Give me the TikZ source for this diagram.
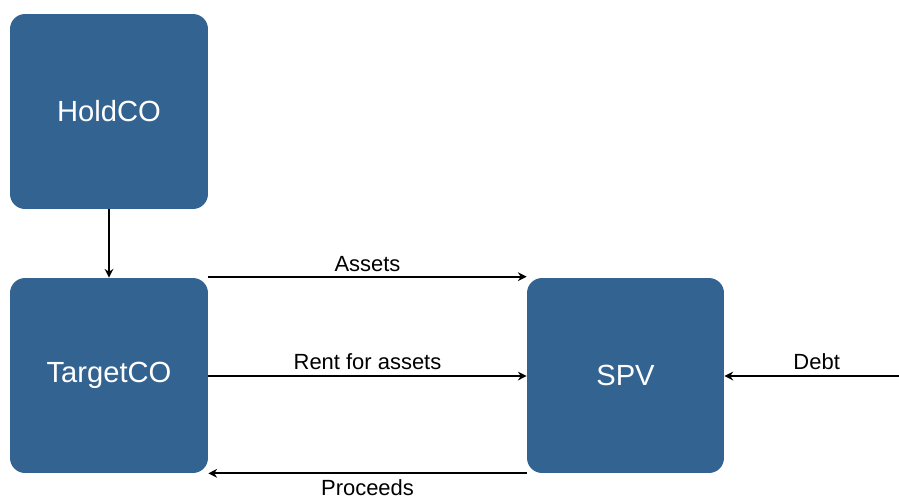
\documentclass[tikz,border=0pt]{standalone}
\usepackage{fontspec}
\setmainfont{Liberation Sans}
\usetikzlibrary{arrows.meta}
\definecolor{boxblue}{RGB}{51,99,145}

\begin{document}
\begin{tikzpicture}[x=0.02cm, y=-0.02cm,
                entity/.style={fill=boxblue, rounded corners=0.3cm, minimum width=3.96cm, minimum height=3.9cm, text=white, font=\fontsize{16.6}{20}\selectfont},
                flow/.style={black, line width=1.1pt, -{Stealth[length=5pt, width=5pt]}},
                tag/.style={font=\fontsize{12.5}{15}\selectfont, inner sep=2pt}]
                \useasboundingbox (0, 0) rectangle (899, 495);
                % Boxes
                \node [entity] (hold) at (109, 111.5) {HoldCO};
                \node [entity] (target) at (109, 375.5) {TargetCO};
                \node [entity, minimum width=3.94cm] (spv) at (625.5, 375.5) {SPV};
                \coordinate (lender) at (899, 376);
                % Flows
                \draw [flow] (hold.south) -- (target.north);
                \draw [flow] ([yshift=0.02cm]target.north east) -- node [tag, above] (assets) {Assets} ([yshift=0.02cm]spv.north west);
                \draw [flow] ([yshift=-0.01cm]target.east) -- node [tag, above, yshift=1pt] (rent) {Rent for assets} ([yshift=-0.01cm]spv.west);
                \draw [flow] (spv.south west) -- node [tag, below, yshift=-1pt] (proceeds) {Proceeds} (target.south east);
                \draw [flow] (lender) -- node [tag, above, yshift=1pt, xshift=0.1cm] (debt) {Debt} ([yshift=-0.01cm]spv.east);
            \end{tikzpicture}
\end{document}
